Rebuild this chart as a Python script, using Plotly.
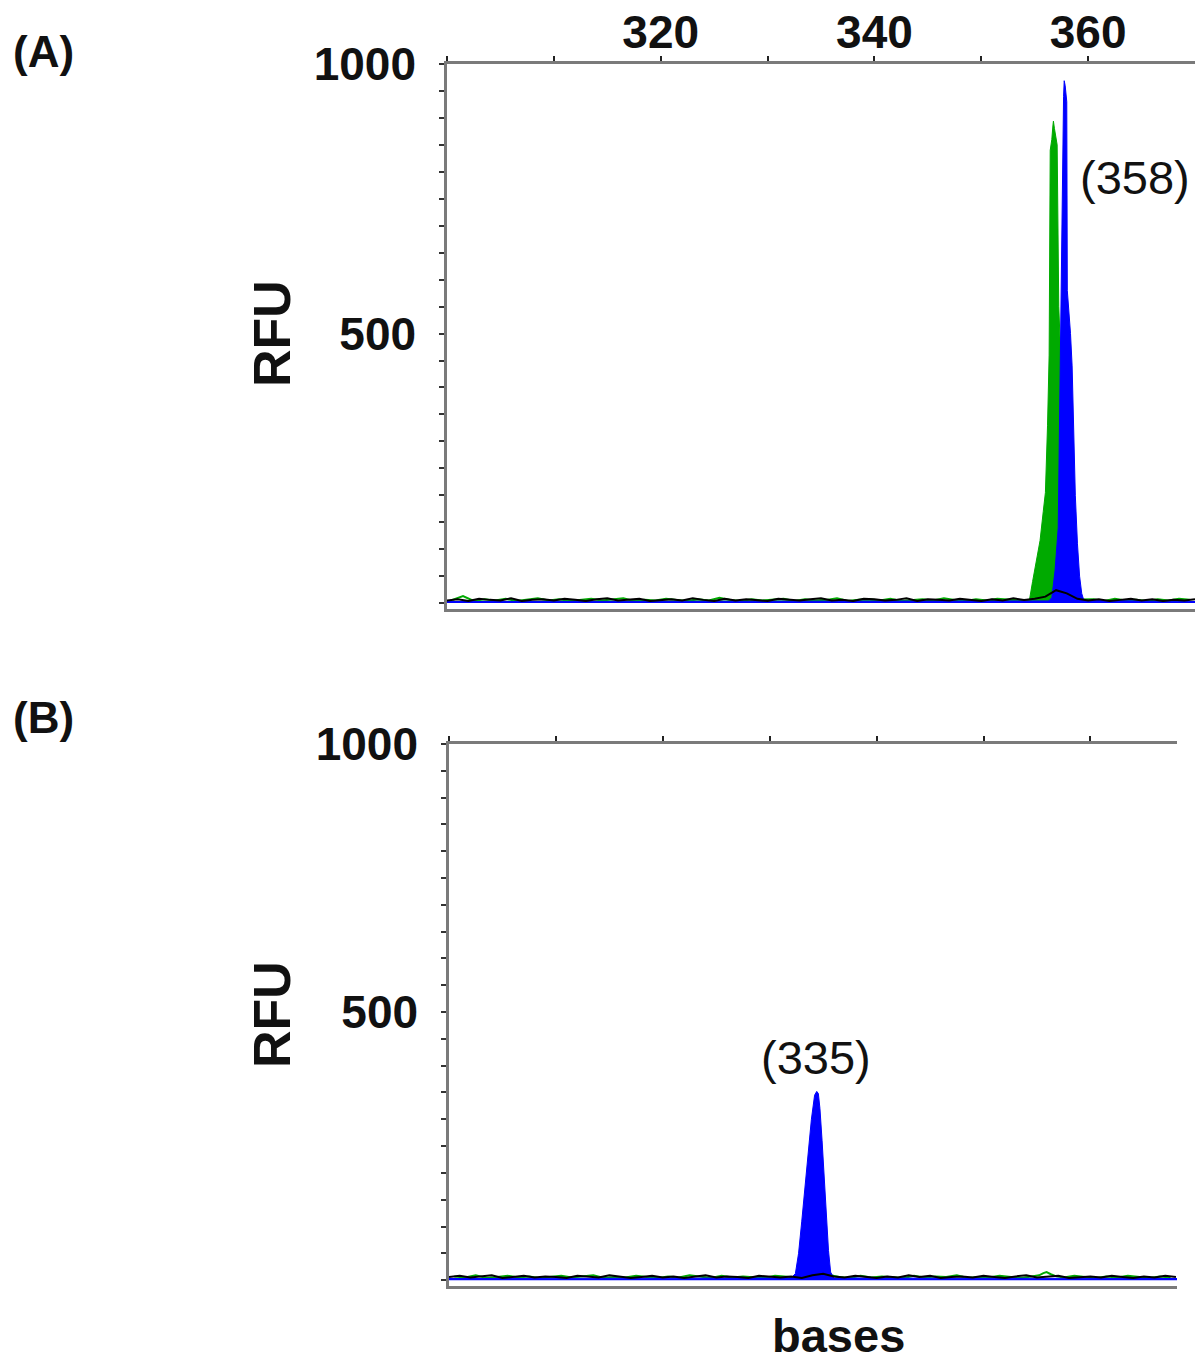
import plotly.graph_objects as go

W, H = 1199, 1363

# ---------------- Panel A data (bases vs RFU) ----------------
a_green_x = [300, 354.5, 354.8, 355.1, 355.5, 355.8, 356.0, 356.2, 356.35, 356.45, 356.6, 356.7, 356.75,
             356.85, 357.0, 357.1, 357.25, 357.45, 357.7, 358.0, 358.4, 358.8, 359.2, 370]
a_green_y = [3, 5, 40, 70, 116, 170, 205, 330, 460, 840, 860, 885, 894,
             880, 860, 850, 550, 450, 250, 100, 40, 15, 5, 3]

a_blue_x = [300, 356.3, 356.6, 356.9, 357.2, 357.3, 357.45, 357.6, 357.7, 357.76, 357.85, 358.0, 358.05,
            358.2, 358.35, 358.5, 358.65, 358.8, 359.0, 359.2, 359.4, 359.6, 370]
a_blue_y = [3, 4, 10, 60, 140, 320, 560, 850, 940, 969, 960, 930, 580,
            540, 500, 440, 320, 200, 110, 50, 18, 5, 3]

a_black_x = list(range(300, 371))
a_black_y = [5, 7, 4, 8, 6, 5, 9, 4, 6, 7, 5, 8, 6, 4, 7, 9, 5, 6, 8, 4,
             6, 7, 5, 9, 6, 4, 8, 5, 7, 6, 4, 8, 6, 5, 7, 9, 5, 6, 4, 8,
             7, 5, 6, 9, 4, 7, 6, 5, 8, 6, 4, 7, 5, 9, 6, 8, 12, 24, 18, 8,
             5, 7, 4, 6, 8, 5, 7, 4, 6, 5, 7]

a_gnoise_x = [300.5, 301.5, 302.5, 303.5, 304.5, 305.5, 306.5, 307.5, 308.5, 309.5,
              310.5, 311.5, 312.5, 313.5, 314.5, 315.5, 316.5, 317.5, 318.5, 319.5,
              320.5, 321.5, 322.5, 323.5, 324.5, 325.5, 326.5, 327.5, 328.5, 329.5,
              330.5, 331.5, 332.5, 333.5, 334.5, 335.5, 336.5, 337.5, 338.5, 339.5,
              340.5, 341.5, 342.5, 343.5, 344.5, 345.5, 346.5, 347.5, 348.5, 349.5,
              350.5, 351.5, 352.5, 353.5, 360.5, 361.5, 362.5, 363.5, 364.5, 365.5,
              366.5, 367.5, 368.5, 369.5]
a_gnoise_y = [6, 13, 4, 7, 5, 8, 4, 6, 9, 5,
              7, 4, 6, 8, 5, 7, 9, 4, 6, 5,
              8, 6, 4, 7, 5, 10, 6, 4, 7, 5,
              6, 8, 4, 7, 5, 6, 9, 4, 6, 7,
              5, 8, 4, 6, 7, 5, 9, 6, 4, 7,
              5, 8, 6, 5, 7, 4, 8, 5, 6, 4,
              7, 5, 8, 6]

a_label = "(358)"

# ---------------- Panel B data ----------------
b_blue_x = [300, 332.0, 332.4, 332.7, 333.0, 333.3, 333.6, 333.9, 334.2, 334.4, 334.55, 334.7,
            334.9, 335.1, 335.3, 335.5, 335.7, 336.0, 368.1]
b_blue_y = [3, 4, 12, 50, 110, 170, 235, 300, 345, 352, 348, 320,
            260, 190, 120, 55, 15, 4, 3]

b_black_x = list(range(300, 369))
b_black_y = [6, 8, 5, 7, 9, 4, 6, 8, 5, 7, 6, 4, 8, 6, 5, 9, 7, 4, 6, 8,
             5, 7, 4, 6, 9, 5, 7, 6, 4, 8, 6, 5, 7, 4, 9, 12, 7, 5, 8, 6,
             4, 7, 5, 9, 6, 8, 4, 6, 7, 5, 8, 6, 4, 7, 9, 5, 6, 8, 4, 6,
             7, 5, 8, 6, 4, 7, 5, 8, 6]

b_gnoise_x = [300.5, 301.5, 302.5, 303.5, 304.5, 305.5, 306.5, 307.5, 308.5, 309.5,
              310.5, 311.5, 312.5, 313.5, 314.5, 315.5, 316.5, 317.5, 318.5, 319.5,
              320.5, 321.5, 322.5, 323.5, 324.5, 325.5, 326.5, 327.5, 328.5, 329.5,
              330.5, 331.5, 332.5, 333.5, 334.5, 335.5, 336.5, 337.5, 338.5, 339.5,
              340.5, 341.5, 342.5, 343.5, 344.5, 345.5, 346.5, 347.5, 348.5, 349.5,
              350.5, 351.5, 352.5, 353.5, 354.5, 355.2, 355.6, 355.9, 356.3, 356.8,
              357.5, 358.5, 359.5, 360.5, 361.5, 362.5, 363.5, 364.5, 365.5, 366.5, 367.5]
b_gnoise_y = [7, 5, 9, 4, 6, 8, 5, 7, 4, 6,
              8, 5, 7, 9, 4, 6, 5, 8, 6, 4,
              7, 5, 9, 6, 4, 8, 5, 7, 6, 4,
              8, 6, 5, 7, 9, 10, 6, 4, 8, 5,
              7, 6, 4, 8, 5, 7, 6, 9, 4, 6,
              5, 8, 6, 4, 7, 9, 13, 15, 11, 7,
              5, 8, 6, 4, 7, 5, 8, 6, 4, 7, 5]

b_label = "(335)"

x_tickvals = [300, 310, 320, 330, 340, 350, 360]
x_ticktext = ["", "", "320", "", "340", "", "360"]
y_tickvals = [0, 50, 100, 150, 200, 250, 300, 350, 400, 450, 500,
              550, 600, 650, 700, 750, 800, 850, 900, 950, 1000]
y_ticktext = ["", "", "", "", "", "", "", "", "", "", "500",
              "", "", "", "", "", "", "", "", "", "1000"]

BLUE = "#0000FF"
GREEN = "#00AA00"
BLACK = "#000000"


def px_x(p):
    return p / W


def px_y(p):
    return 1 - p / H


fig = go.Figure()

# Panel A traces
fig.add_trace(go.Scatter(x=a_gnoise_x, y=a_gnoise_y, mode="lines",
                         line=dict(color=GREEN, width=2), xaxis="x", yaxis="y"))
fig.add_trace(go.Scatter(x=a_green_x, y=a_green_y, mode="lines", fill="tozeroy",
                         fillcolor=GREEN, line=dict(color=GREEN, width=1), xaxis="x", yaxis="y"))
fig.add_trace(go.Scatter(x=a_blue_x, y=a_blue_y, mode="lines", fill="tozeroy",
                         fillcolor=BLUE, line=dict(color=BLUE, width=1), xaxis="x", yaxis="y"))
fig.add_trace(go.Scatter(x=a_black_x, y=a_black_y, mode="lines",
                         line=dict(color=BLACK, width=2), xaxis="x", yaxis="y"))

# Panel B traces
fig.add_trace(go.Scatter(x=b_gnoise_x, y=b_gnoise_y, mode="lines",
                         line=dict(color=GREEN, width=2), xaxis="x2", yaxis="y2"))
fig.add_trace(go.Scatter(x=b_blue_x, y=b_blue_y, mode="lines", fill="tozeroy",
                         fillcolor=BLUE, line=dict(color=BLUE, width=1), xaxis="x2", yaxis="y2"))
fig.add_trace(go.Scatter(x=b_black_x, y=b_black_y, mode="lines",
                         line=dict(color=BLACK, width=2), xaxis="x2", yaxis="y2"))

FONT = "Liberation Sans, Arial, sans-serif"
tickfont = dict(family=FONT, size=46, color="#111111", weight="bold")

common_x = dict(side="top", showline=True, linecolor="#7a7a7a", linewidth=2.5, mirror=True,
                ticks="outside", ticklen=5, tickwidth=2, tickcolor="#222222",
                tickvals=x_tickvals, showgrid=False, zeroline=False, fixedrange=True,
                automargin=False)
common_y = dict(showline=True, linecolor="#7a7a7a", linewidth=2.5,
                ticks="outside", ticklen=5, tickwidth=2, tickcolor="#333333",
                tickvals=y_tickvals, ticktext=y_ticktext, tickfont=tickfont,
                ticklabelstandoff=14, showgrid=False, zeroline=False, fixedrange=True,
                automargin=False)

fig.update_layout(
    width=W, height=H,
    margin=dict(l=0, r=0, t=0, b=0, pad=0, autoexpand=False),
    paper_bgcolor="white", plot_bgcolor="white",
    showlegend=False,
    xaxis=dict(common_x, domain=[px_x(447), px_x(1195)], range=[300, 370],
               ticktext=x_ticktext, tickfont=tickfont, ticklabelstandoff=-10, anchor="y"),
    yaxis=dict(common_y, domain=[px_y(608.5), px_y(64)], range=[-10, 1000], anchor="x"),
    xaxis2=dict(common_x, domain=[px_x(449), px_x(1177)], range=[300, 368.1],
                showticklabels=False, anchor="y2"),
    yaxis2=dict(common_y, domain=[px_y(1285.5), px_y(744)], range=[-10, 1000], anchor="x2"),
)

ann_font_b = dict(family=FONT, size=44, color="#111111", weight="bold")
ann_font_big = dict(family=FONT, size=52, color="#111111", weight="bold")
ann_font_reg = dict(family=FONT, size=47, color="#111111")

annotations = [
    dict(text="(A)", x=px_x(43), y=px_y(52), font=ann_font_b),
    dict(text="(B)", x=px_x(43), y=px_y(718), font=ann_font_b),
    dict(text="RFU", x=px_x(272), y=px_y(334), font=ann_font_big, textangle=-90),
    dict(text="RFU", x=px_x(272), y=px_y(1015), font=ann_font_big, textangle=-90),
    dict(text=a_label, x=px_x(1135), y=px_y(177), font=ann_font_reg),
    dict(text=b_label, x=px_x(816), y=px_y(1057), font=ann_font_reg),
    dict(text="bases", x=px_x(838), y=px_y(1335), font=dict(family=FONT, size=47, color="#111111", weight="bold")),
]
for a in annotations:
    a.update(xref="paper", yref="paper", showarrow=False, xanchor="center", yanchor="middle")
fig.update_layout(annotations=annotations)

fig.write_html("out.html",
               config={"displayModeBar": False},
               post_script="document.body.style.margin='0px';document.body.style.padding='0px';"
                           "document.documentElement.style.overflow='hidden';")
